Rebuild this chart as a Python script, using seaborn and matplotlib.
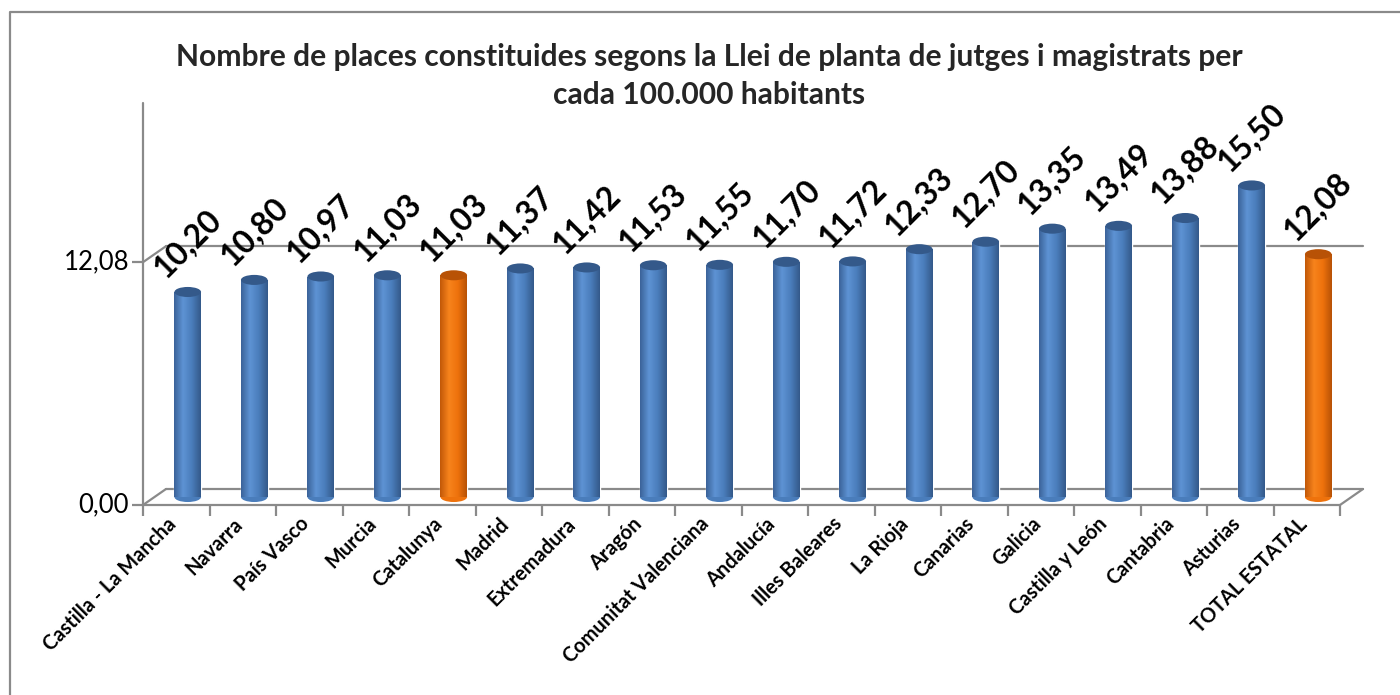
import numpy as np
import matplotlib
matplotlib.use("Agg")
import matplotlib.pyplot as plt
import matplotlib.transforms as mtransforms
from matplotlib.colors import LinearSegmentedColormap
from matplotlib.patches import Ellipse
from matplotlib.lines import Line2D
import seaborn as sns

# dades
regions = ["Castilla - La Mancha", "Navarra", "País Vasco", "Murcia", "Catalunya",
           "Madrid", "Extremadura", "Aragón", "Comunitat Valenciana", "Andalucía",
           "Illes Baleares", "La Rioja", "Canarias", "Galicia", "Castilla y León",
           "Cantabria", "Asturias", "TOTAL ESTATAL"]
valors = [10.20, 10.80, 10.97, 11.03, 11.03, 11.37, 11.42, 11.53, 11.55, 11.70,
          11.72, 12.33, 12.70, 13.35, 13.49, 13.88, 15.50, 12.08]
destacats = ["Catalunya", "TOTAL ESTATAL"]
yticks = [0.0, 12.08]
titol = ("Nombre de places constituides segons la Llei de planta de jutges i magistrats per\n"
         "cada 100.000 habitants")

sns.set_theme(style="white")
plt.rcParams['font.family'] = ['Lato', 'DejaVu Sans']

blau = ("#3B6399", "#5E93D4", "#4A7DBB", "#34598A")
taronja = ("#C25808", "#F7831C", "#EE720C", "#B85206")
colors = {r: (taronja[2] if r in destacats else blau[2]) for r in regions}

W, H = 1400, 695
fig = plt.figure(figsize=(W / 100, H / 100), dpi=100)
# eixos al pla mitja (on hi ha els cilindres)
x0, y0 = 154.5, 497
ax = fig.add_axes([x0 / W, (H - y0) / H, 1197 / W, 402 / H])

sns.barplot(x=regions, y=valors, hue=regions, palette=colors, legend=False,
            width=0.4, saturation=1, ax=ax, zorder=3)
ax.set_xlim(-0.5, len(regions) - 0.5)
ax.set_ylim(0, 20)
for s in ax.spines.values():
    s.set_visible(False)
ax.set_xlabel("")
ax.set_ylabel("")

# efecte 3D: pla frontal i pla del fons
dx, dy = 11.5 / 100, 8 / 100
front = ax.transData + mtransforms.ScaledTranslation(-dx, -dy, fig.dpi_scale_trans)
back = ax.transData + mtransforms.ScaledTranslation(dx, dy, fig.dpi_scale_trans)
gris = "#8A8A8A"
xa, xb = -0.5, len(regions) - 0.5

ax.plot([xa, xa], [0, 20], color=gris, lw=1.6, transform=front, clip_on=False, zorder=1)
ax.plot([xa, xb], [0, 0], color=gris, lw=1.6, transform=front, clip_on=False, zorder=1)
ax.plot([xa, xb], [0, 0], color=gris, lw=1.6, transform=back, clip_on=False, zorder=1)
ax.plot([xa, xb], [yticks[1]] * 2, color=gris, lw=1.6, transform=back, clip_on=False, zorder=1)
for xx, yy in [(xa, 0), (xb, 0), (xa, yticks[1])]:
    p1 = front.transform((xx, yy))
    p2 = back.transform((xx, yy))
    fig.add_artist(Line2D([p1[0] / W, p2[0] / W], [p1[1] / H, p2[1] / H],
                          color=gris, lw=1.6, zorder=1))

# marques dels eixos
for b in np.arange(xa, xb + 1):
    ax.plot(b, 0, marker=3, ms=8, mew=1.6, color=gris, transform=front, clip_on=False)
for t in yticks:
    ax.plot(xa, t, marker=0, ms=8, mew=1.6, color=gris, transform=front, clip_on=False)

ax.set_xticks([])
ax.set_yticks([])
for t in yticks:
    ax.annotate(f"{t:.2f}".replace(".", ","), (xa, t), xycoords=front,
                xytext=(-10, 0), textcoords="offset points",
                ha="right", va="center", fontsize=18.5, color="black")
for i, r in enumerate(regions):
    ax.annotate(r, (i, 0), xycoords=front, xytext=(-2, -11.5), textcoords="offset points",
                ha="right", va="center", rotation=45, rotation_mode="anchor",
                fontsize=14.4, fontweight="bold", color="black")

# cilindres: degradat i tapes
for patch, r, v in zip(ax.patches, regions, valors):
    pal = taronja if r in destacats else blau
    cmap = LinearSegmentedColormap.from_list("c", [pal[0], pal[1], pal[2], pal[3]])
    bx, bw = patch.get_x(), patch.get_width()
    grad = np.linspace(0, 1, 64).reshape(1, -1)
    im = ax.imshow(grad, extent=[bx, bx + bw, 0, v], cmap=cmap, aspect="auto",
                   zorder=4, interpolation="bilinear")
    im.set_clip_path(patch)
    ax.add_patch(Ellipse((bx + bw / 2, 0), bw, 0.5, facecolor=pal[2], edgecolor="none",
                         zorder=3.5, clip_on=False))
    ax.add_patch(Ellipse((bx + bw / 2, v), bw, 0.5, facecolor=pal[3], edgecolor="none",
                         zorder=5, clip_on=False))
    ax.annotate(f"{v:.2f}".replace(".", ","), (bx + bw / 2, v), xytext=(0, 35),
                textcoords="offset points", ha="center", va="center", rotation=45,
                fontsize=23, fontweight="bold", color="black", zorder=6)

ax.set_xlim(xa, xb)
ax.set_ylim(0, 20)

fig.text(709 / W, 1 - 76 / H, titol, ha="center", va="center", fontsize=21.6,
         fontweight="bold", linespacing=1.42)

# marc del gràfic
fig.add_artist(Line2D([10 / W, 10 / W, 1], [0, 1 - 12 / H, 1 - 12 / H],
                      color=gris, lw=1.6))

fig.savefig("out.png", dpi=100, facecolor="white")
